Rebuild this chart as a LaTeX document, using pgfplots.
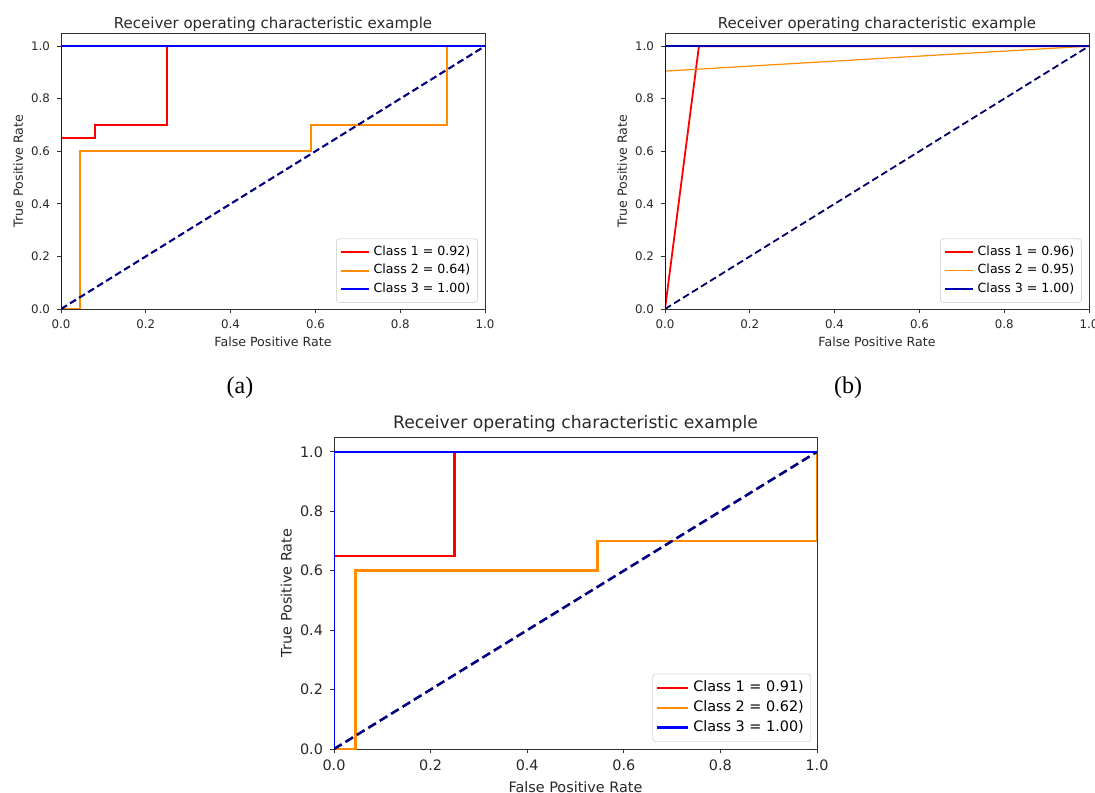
\documentclass[border=0pt]{standalone}
\usepackage{fontspec}
\setmainfont{DejaVu Sans}
\newfontfamily\capfont{Liberation Serif}
\usepackage{pgfplots}
\pgfplotsset{compat=1.18}
\definecolor{mplorange}{RGB}{255,140,0}
\definecolor{mplnavy}{RGB}{0,0,128}
\definecolor{spine}{RGB}{50,50,50}
\definecolor{ticktext}{RGB}{40,40,40}

% shared look of the three ROC panels
\pgfplotsset{
  rocax/.style={
    scale only axis, anchor=south west,
    xmin=0, xmax=1, ymin=0, ymax=1.05,
    xtick={0,0.2,0.4,0.6,0.8,1}, ytick={0,0.2,0.4,0.6,0.8,1},
    xtick pos=left, ytick pos=left, tick align=outside,
    major tick length=2pt,
    tick style={spine, line width=0.4pt},
    axis line style={spine, line width=0.4pt},
    /pgf/number format/assume math mode=true,
    /pgf/number format/.cd, fixed, fixed zerofill, precision=1, /pgfplots/.cd,
    xlabel={False Positive Rate}, ylabel={True Positive Rate},
    title={Receiver operating characteristic example},
    title style={at={(axis description cs:0.5,1)}, anchor=center, color=ticktext},
    xlabel style={anchor=center, color=ticktext},
    ylabel style={anchor=center, color=ticktext},
    tick label style={color=ticktext},
    legend cell align=left,
    legend style={anchor=south east, draw=black!15,
      rounded corners=1.5pt, inner sep=1.5pt, row sep=-1pt},
  },
  small/.style={
    width=212pt, height=138pt,
    tick label style={font=\fontsize{5.9}{6}\selectfont},
    label style={font=\fontsize{6.3}{7}\selectfont},
    title style={font=\fontsize{7.5}{8}\selectfont, yshift=-1.5pt},
    xlabel style={at={(axis description cs:0.5,-0.12)}},
    ylabel style={at={(axis description cs:-0.101,0.5)}},
    legend style={at={(0.983,0.022)}, font=\fontsize{6.3}{7}\selectfont},
    legend image code/.code={\draw[##1] (0pt,0pt) -- (14pt,0pt);},
  },
}

\begin{document}
\begin{tikzpicture}
\useasboundingbox (0,0) rectangle (547.5pt,396pt);

% (a)
\begin{axis}[rocax, small, at={(30.5pt,241.5pt)}]
\addplot[red, line width=1.05pt] coordinates {(0,0) (0,0.65) (0.08,0.65) (0.08,0.70) (0.25,0.70) (0.25,1) (1,1)};
\addlegendentry{Class 1 = 0.92)}
\addplot[mplorange, line width=1.05pt] coordinates {(0,0) (0.045,0) (0.045,0.6) (0.59,0.6) (0.59,0.7) (0.91,0.7) (0.91,1) (1,1)};
\addlegendentry{Class 2 = 0.64)}
\addplot[blue, line width=1.05pt] coordinates {(0,0) (0,1) (1,1)};
\addlegendentry{Class 3 = 1.00)}
\addplot[mplnavy, line width=1.05pt, dash pattern=on 3.5pt off 1.8pt, forget plot] coordinates {(0,0) (1,1)};
\end{axis}

% (b)
\begin{axis}[rocax, small, at={(332.5pt,241.5pt)}]
\addplot[red, line width=0.9pt] coordinates {(0,0) (0.08,1) (1,1)};
\addlegendentry{Class 1 = 0.96)}
\addplot[mplorange, line width=0.6pt] coordinates {(0,0) (0,0.905) (1,1)};
\addlegendentry{Class 2 = 0.95)}
\addplot[blue!70!black, line width=1.1pt] coordinates {(0,0) (0,1) (1,1)};
\addlegendentry{Class 3 = 1.00)}
\addplot[mplnavy!80!black, line width=0.9pt, dash pattern=on 3.5pt off 1.8pt, forget plot] coordinates {(0,0) (1,1)};
\end{axis}

\node[font=\capfont\fontsize{12}{13}\selectfont] at (120pt,202pt) {(a)};
\node[font=\capfont\fontsize{12}{13}\selectfont] at (424pt,202pt) {(b)};

% (c)
\begin{axis}[rocax, at={(167pt,21.5pt)}, width=241.5pt, height=156pt,
  tick label style={font=\fontsize{7.2}{8}\selectfont},
  label style={font=\fontsize{7.2}{8}\selectfont},
  title style={font=\fontsize{8.6}{9}\selectfont, yshift=0.5pt},
  xlabel style={at={(axis description cs:0.5,-0.122)}},
  ylabel style={at={(axis description cs:-0.099,0.5)}},
  legend style={at={(0.988,0.022)}, font=\fontsize{7.2}{8}\selectfont},
  legend image code/.code={\draw[#1] (0pt,0pt) -- (15.5pt,0pt);}]
\addplot[red, line width=1.3pt] coordinates {(0,0) (0,0.65) (0.25,0.65) (0.25,1) (1,1)};
\addlegendentry{Class 1 = 0.91)}
\addplot[mplorange, line width=1.3pt] coordinates {(0,0) (0.045,0) (0.045,0.6) (0.545,0.6) (0.545,0.7) (1,0.7) (1,1)};
\addlegendentry{Class 2 = 0.62)}
\addplot[blue, line width=1.3pt] coordinates {(0,0) (0,1) (1,1)};
\addlegendentry{Class 3 = 1.00)}
\addplot[mplnavy, line width=1.3pt, dash pattern=on 4.5pt off 2.2pt, forget plot] coordinates {(0,0) (1,1)};
\end{axis}
\end{tikzpicture}
\end{document}
